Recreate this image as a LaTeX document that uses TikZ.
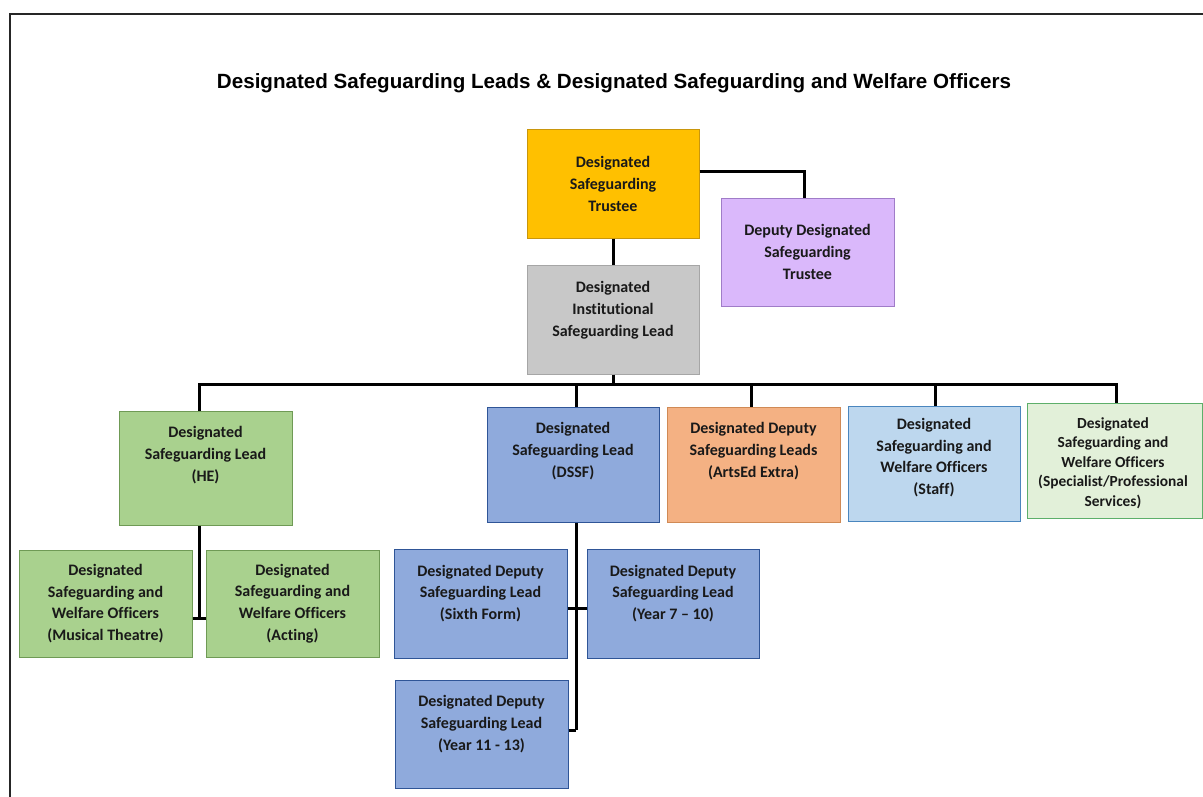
\documentclass[tikz,border=0pt]{standalone}
\usepackage{fontspec}
\setmainfont{Carlito}[Ligatures=NoCommon]
\newfontfamily\titlefont{Liberation Sans}
\usetikzlibrary{calc}
\definecolor{orgF}{HTML}{FFC000}\definecolor{orgD}{HTML}{C9960C}
\definecolor{purF}{HTML}{DAB8FB}\definecolor{purD}{HTML}{A07CC8}
\definecolor{grayF}{HTML}{C8C8C8}\definecolor{grayD}{HTML}{A6A6A6}
\definecolor{grnF}{HTML}{A9D18E}\definecolor{grnD}{HTML}{6F9A55}
\definecolor{bluF}{HTML}{8FAADC}\definecolor{bluD}{HTML}{2F5597}
\definecolor{peaF}{HTML}{F4B183}\definecolor{peaD}{HTML}{D08A55}
\definecolor{skyF}{HTML}{BDD7EE}\definecolor{skyD}{HTML}{4A86BE}
\definecolor{mntF}{HTML}{E2F0D9}\definecolor{mntD}{HTML}{5DAF6A}
\tikzset{
  box/.style={rectangle, line width=1pt, inner sep=0pt},
  txt/.style={align=center, font=\fontsize{16}{21.8}\selectfont\bfseries, text=black!90, inner sep=0pt},
  smalltxt/.style={align=center, font=\fontsize{15.4}{19.5}\selectfont\bfseries, text=black!90, inner sep=0pt},
  conn/.style={line width=3pt, black},
}
\begin{document}
\begin{tikzpicture}[x=1pt,y=-1pt]
\useasboundingbox (0,0) rectangle (1203,796);
\fill[white] (0,0) rectangle (1203,796);
\draw[line width=2pt, black!85] (1210,14) -- (9.5,14) -- (9.5,805);
\node[font=\titlefont\fontsize{20.6}{24}\selectfont\bfseries, inner sep=0pt] (title) at (614,83)
  {Designated Safeguarding Leads \& Designated Safeguarding and Welfare Officers};

% boxes
\node[box, fill=orgF, draw=orgD, minimum width=172, minimum height=109] (trustee) at (613,183.5) {};
\node[box, fill=purF, draw=purD, minimum width=173, minimum height=108] (deputy) at (807.5,252) {};
\node[box, fill=grayF, draw=grayD, minimum width=172, minimum height=109] (inst) at (613,319.5) {};
\node[box, fill=grnF, draw=grnD, minimum width=173, minimum height=114] (he) at (205.5,468) {};
\node[box, fill=grnF, draw=grnD, minimum width=173, minimum height=107] (mt) at (105.5,603.5) {};
\node[box, fill=grnF, draw=grnD, minimum width=173, minimum height=107] (act) at (292.5,603.5) {};
\node[box, fill=bluF, draw=bluD, minimum width=172, minimum height=115] (dssf) at (573,464.5) {};
\node[box, fill=peaF, draw=peaD, minimum width=173, minimum height=115] (arts) at (753.5,464.5) {};
\node[box, fill=skyF, draw=skyD, minimum width=172, minimum height=115] (staff) at (934,463.5) {};
\node[box, fill=mntF, draw=mntD, minimum width=175, minimum height=115] (spec) at (1114.5,460.5) {};
\node[box, fill=bluF, draw=bluD, minimum width=173, minimum height=109] (sixth) at (480.5,603.5) {};
\node[box, fill=bluF, draw=bluD, minimum width=172, minimum height=109] (ysev) at (673,603.5) {};
\node[box, fill=bluF, draw=bluD, minimum width=173, minimum height=108] (yel) at (481.5,734) {};

% texts
\node[txt] (trustee-t) at (613,184) {Designated\\Safeguarding\\Trustee};
\node[txt] (deputy-t) at (807.5,252) {Deputy Designated\\Safeguarding\\Trustee};
\node[txt] (inst-t) at (613,310.5) {Designated\\Institutional\\Safeguarding Lead};
\node[txt] (he-t) at (205.5,455) {Designated\\Safeguarding Lead\\(HE)};
\node[txt] (mt-t) at (105.5,603.5) {Designated\\Safeguarding and\\Welfare Officers\\(Musical Theatre)};
\node[txt] (act-t) at (292.5,603.5) {Designated\\Safeguarding and\\Welfare Officers\\(Acting)};
\node[txt] (dssf-t) at (573,451) {Designated\\Safeguarding Lead\\(DSSF)};
\node[txt] (arts-t) at (753.5,451) {Designated Deputy\\Safeguarding Leads\\(ArtsEd Extra)};
\node[txt] (staff-t) at (934,457.5) {Designated\\Safeguarding and\\Welfare Officers\\(Staff)};
\node[smalltxt] (spec-t) at (1113,463) {Designated\\Safeguarding and\\Welfare Officers\\(Specialist/Professional\\Services)};
\node[txt] (sixth-t) at (480.5,593.5) {Designated Deputy\\Safeguarding Lead\\(Sixth Form)};
\node[txt] (ysev-t) at (673,593.5) {Designated Deputy\\Safeguarding Lead\\(Year 7 -- 10)};
\node[txt] (yel-t) at (481.5,724) {Designated Deputy\\Safeguarding Lead\\(Year 11 - 13)};

% connectors
\draw[conn] ([yshift=12.5pt]trustee.east) -| ([xshift=-3.5pt]deputy.north);
\draw[conn] (trustee.south) -- (inst.north);
\coordinate (bus) at ($(inst.south)+(0,10)$);
\draw[conn] (inst.south) -- (bus);
\draw[conn] ([xshift=-6.5pt]he.north) -- ([xshift=-6.5pt]he.north |- bus) -- ([xshift=1.5pt]spec.north |- bus) -- ([xshift=1.5pt]spec.north);
\draw[conn] ([xshift=3pt]bus -| dssf.north) -- ([xshift=3pt]dssf.north);
\draw[conn] ([xshift=-2.5pt]bus -| arts.north) -- ([xshift=-2.5pt]arts.north);
\draw[conn] ([xshift=1pt]bus -| staff.north) -- ([xshift=1pt]staff.north);
\coordinate (hej) at ($(he.south |- mt.east)+(-6.5,14.5)$);
\draw[conn] ([xshift=-6.5pt]he.south) -- (hej);
\draw[conn] (hej -| mt.east) -- (hej -| act.west);
\coordinate (dj) at ($(dssf.south |- yel.east)+(3,-4)$);
\draw[conn] ([xshift=3pt]dssf.south) -- (dj);
\draw[conn] (dj -| yel.east) -- (dj);
\draw[conn] ($(sixth.east)+(0,4.5)$) -- ($(ysev.west)+(0,4.5)$);
\end{tikzpicture}
\end{document}
